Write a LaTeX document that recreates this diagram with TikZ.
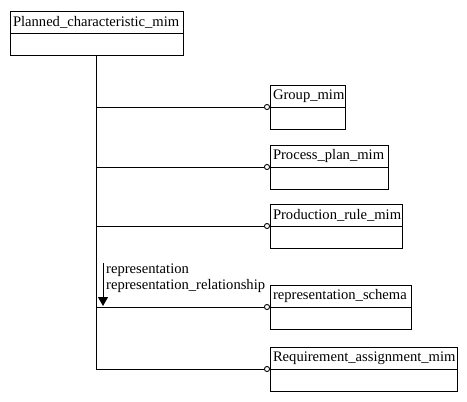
\documentclass[tikz,border=0pt]{standalone}
\usepackage{fontspec}
\setmainfont{Liberation Serif}
\usetikzlibrary{arrows.meta,positioning}

\begin{document}
\begin{tikzpicture}[
  x=1pt,y=-1pt,
  font=\fontsize{14.6}{15.5}\selectfont,
  cls/.style={draw,line width=0.9pt,anchor=north west,minimum height=22pt,inner xsep=3pt,
              inner ysep=0pt,outer sep=0pt,align=left},
  body/.style={draw,line width=0.9pt,minimum height=22pt,inner sep=0pt,outer sep=0pt},
  link/.style={line width=0.9pt,-{Circle[open,length=6pt,line width=0.9pt]}},
  reftip/.style={line width=0.9pt,-{Triangle[length=9pt,width=10pt]}}
]
\useasboundingbox (0,0) rectangle (467,402);
% entities
\node[cls,text width=167pt] (pc) at (10,11) {Planned\_characteristic\_mim};
\node[body,minimum width=173pt,below=0pt of pc] (pcb) {};
\node[cls,text width=69pt] (gm) at (270,85) {Group\_mim};
\node[body,minimum width=75pt,below=0pt of gm] (gmb) {};
\node[cls,text width=112pt] (pp) at (270,145) {Process\_plan\_mim};
\node[body,minimum width=118pt,below=0pt of pp] (ppb) {};
\node[cls,text width=126pt] (pr) at (270,204) {Production\_rule\_mim};
\node[body,minimum width=132pt,below=0pt of pr] (prb) {};
\node[cls,text width=135pt] (rs) at (270,285) {representation\_schema};
\node[body,minimum width=141pt,below=0pt of rs] (rsb) {};
\node[cls,text width=181pt] (ra) at (270,347) {Requirement\_assignment\_mim};
\node[body,minimum width=187pt,below=0pt of ra] (rab) {};
% tree lines
\draw[link] (pcb.south) |- (ra.south west);
\draw[link] (pcb.south |- gm.south west) -- (gm.south west);
\draw[link] (pcb.south |- pp.south west) -- (pp.south west);
\draw[link] (pcb.south |- pr.south west) -- (pr.south west);
\draw[link] (pcb.south |- rs.south west) -- (rs.south west);
% redeclaration label
\coordinate (rtop) at (103,263);
\coordinate (rbot) at (103,306);
\draw[reftip] (rtop) -- (rbot);
\node[anchor=north west,inner sep=0pt,align=left] (rlab) at (106,264)
  {representation\\representation\_relationship};
\end{tikzpicture}
\end{document}
